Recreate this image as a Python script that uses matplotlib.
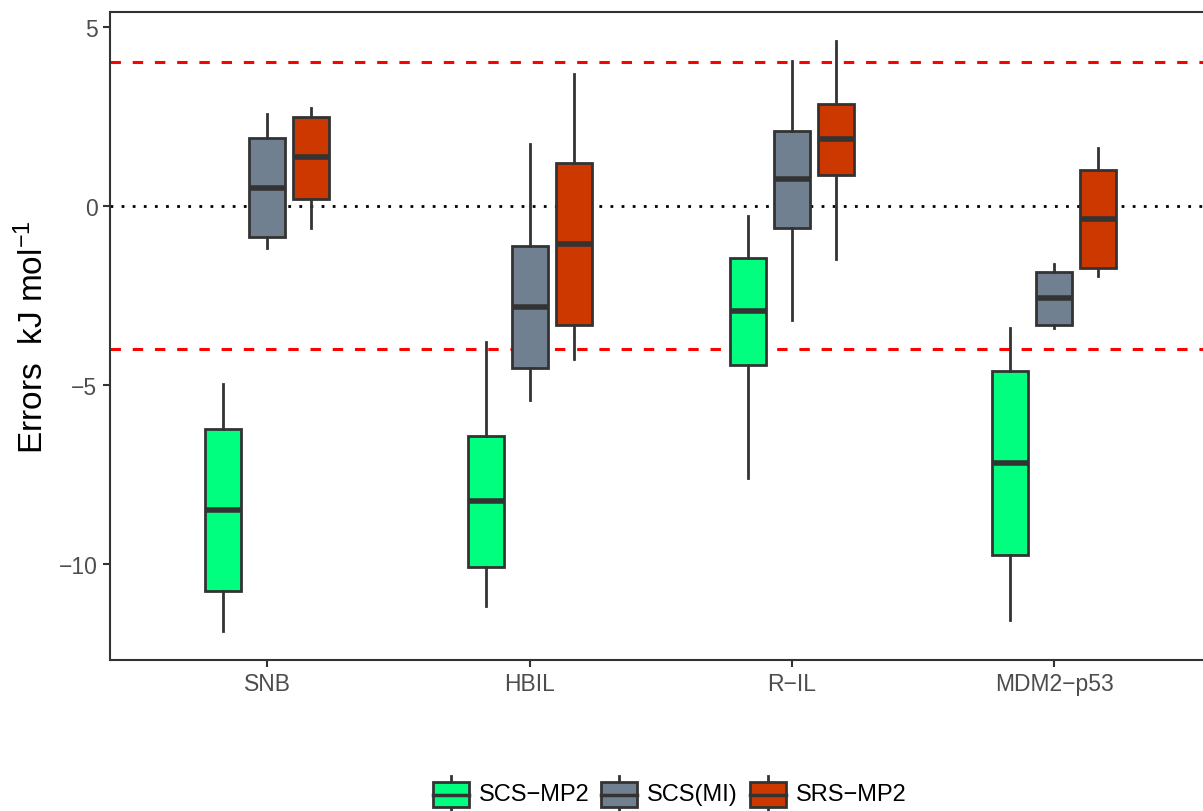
import matplotlib
matplotlib.use("Agg")
import matplotlib.pyplot as plt
from matplotlib.patches import Rectangle
from matplotlib.lines import Line2D

plt.rcParams['font.family'] = ['Liberation Sans', 'DejaVu Sans']
plt.rcParams['mathtext.fontset'] = 'custom'
plt.rcParams['mathtext.rm'] = 'Liberation Sans'
plt.rcParams['mathtext.it'] = 'Liberation Sans:italic'
plt.rcParams['lines.scale_dashes'] = False

# Systems on the x axis
systems = ["SNB", "HBIL", "R\u2212IL", "MDM2\u2212p53"]
methods = ["SCS\u2212MP2", "SCS(MI)", "SRS\u2212MP2"]
colors = ["#00FF7F", "#708090", "#CD3700"]

# Box statistics per method, one entry per system: lower whisker, Q1, median, Q3, upper whisker
scs_mp2_lo = [-11.89, -11.19, -7.62, -11.57]
scs_mp2_q1 = [-10.76, -10.08, -4.45, -9.77]
scs_mp2_med = [-8.50, -8.24, -2.94, -7.20]
scs_mp2_q3 = [-6.24, -6.42, -1.46, -4.61]
scs_mp2_hi = [-4.97, -3.82, -0.29, -3.41]

scs_mi_lo = [-1.17, -5.43, -3.20, -3.43]
scs_mi_q1 = [-0.88, -4.53, -0.62, -3.32]
scs_mi_med = [0.50, -2.83, 0.74, -2.57]
scs_mi_q3 = [1.89, -1.12, 2.09, -1.85]
scs_mi_hi = [2.57, 1.73, 4.03, -1.62]

srs_mp2_lo = [-0.62, -4.27, -1.48, -1.96]
srs_mp2_q1 = [0.20, -3.32, 0.85, -1.74]
srs_mp2_med = [1.36, -1.06, 1.85, -0.36]
srs_mp2_q3 = [2.49, 1.19, 2.85, 1.01]
srs_mp2_hi = [2.72, 3.68, 4.59, 1.62]

series = [
    (scs_mp2_lo, scs_mp2_q1, scs_mp2_med, scs_mp2_q3, scs_mp2_hi),
    (scs_mi_lo, scs_mi_q1, scs_mi_med, scs_mi_q3, scs_mi_hi),
    (srs_mp2_lo, srs_mp2_q1, srs_mp2_med, srs_mp2_q3, srs_mp2_hi),
]

threshold = 4.0
line_col = "#333333"

W, H = 1203, 812
fig = plt.figure(figsize=(W / 100, H / 100), dpi=100)
ax = fig.add_axes([110 / W, (H - 661) / H, 1101.7 / W, (661 - 13) / H])

# Reference lines
ax.axhline(threshold, color="#FF0000", lw=2.2, dashes=(7.5, 8.5), zorder=1)
ax.axhline(-threshold, color="#FF0000", lw=2.2, dashes=(7.5, 8.5), zorder=1)
ax.axhline(0, color="black", lw=2.0, dashes=(2.0, 6.0), dash_capstyle="butt", zorder=1)

dodge = 0.168
box_w = 0.137
for k, (lo, q1, med, q3, hi) in enumerate(series):
    stats = []
    for i in range(len(systems)):
        stats.append(dict(whislo=lo[i], q1=q1[i], med=med[i], q3=q3[i], whishi=hi[i]))
    pos = [i + 1 + (k - 1) * dodge for i in range(len(systems))]
    ax.bxp(stats, positions=pos, widths=box_w, patch_artist=True, showfliers=False,
           showcaps=False, manage_ticks=False,
           boxprops=dict(facecolor=colors[k], edgecolor=line_col, linewidth=2.0),
           medianprops=dict(color=line_col, linewidth=4.0, solid_capstyle="butt"),
           whiskerprops=dict(color=line_col, linewidth=2.0),
           zorder=3)

ax.set_xlim(0.4, 4.6)
ax.set_ylim(-12.69, 5.41)
ax.set_xticks(range(1, len(systems) + 1))
ax.set_xticklabels(systems)
ax.set_yticks([-10, -5, 0, 5])
ax.set_yticklabels(["\u221210", "\u22125", "0", "5"])
ax.tick_params(axis="both", colors=line_col, labelcolor="#4D4D4D", labelsize=16.5,
               length=5, width=1.5, pad=4)
for side in ["left", "bottom", "top", "right"]:
    ax.spines[side].set_color(line_col)
    ax.spines[side].set_linewidth(1.5)


def px(x, y):
    return x / W, (H - y) / H


# Axis title, centred on the panel
tx, ty = px(33, 337)
fig.text(tx, ty, "Errors  kJ mol$^{-1}$", fontsize=24, color="black",
         rotation=90, ha="center", va="center")

# Legend drawn underneath the panel
key_w, key_h = 36, 25
key_left = [433, 601, 750]
key_top = 783
for k, name in enumerate(methods):
    x0 = key_left[k]
    cx = x0 + key_w / 2
    fig.add_artist(Line2D([px(cx, 777)[0], px(cx, 812)[0]], [px(cx, 777)[1], px(cx, 812)[1]],
                          transform=fig.transFigure, color=line_col, lw=2.0, zorder=2))
    bx, by = px(x0, key_top + key_h)
    fig.add_artist(Rectangle((bx, by), key_w / W, key_h / H, transform=fig.transFigure,
                             facecolor=colors[k], edgecolor=line_col, lw=2.0, zorder=3))
    my = key_top + key_h / 2
    fig.add_artist(Line2D([px(x0, my)[0], px(x0 + key_w, my)[0]], [px(x0, my)[1], px(x0, my)[1]],
                          transform=fig.transFigure, color=line_col, lw=2.5, zorder=4))
    lx, ly = px(x0 + key_w + 10, my)
    fig.text(lx, ly, name, fontsize=17, color="black", va="center", ha="left")

fig.savefig("out.png", dpi=100)
